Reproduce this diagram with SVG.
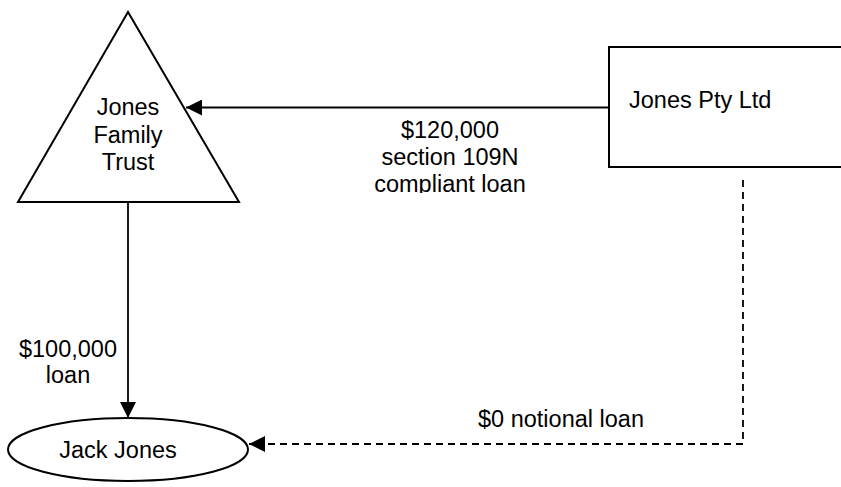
<svg xmlns="http://www.w3.org/2000/svg" width="841" height="487" viewBox="0 0 841 487">
<style>
.shape{fill:#fff;stroke:#000;stroke-width:2}
.conn{fill:none;stroke:#000;stroke-width:1.8}
.dash{stroke-dasharray:7 5}
text{font-family:"Liberation Sans",Arial,sans-serif;font-size:23.5px;fill:#000}
.c{text-anchor:middle}
</style>
<defs>
<marker id="ah" markerUnits="userSpaceOnUse" markerWidth="16" markerHeight="16" viewBox="0 0 16 16" refX="16" refY="8" orient="auto">
<path d="M0,0 L16,8 L0,16 Z" fill="#000"/>
</marker>
<clipPath id="clipLbl"><rect x="360" y="110" width="200" height="83"/></clipPath>
</defs>
<rect width="841" height="487" fill="#fff"/>
<g id="trust">
<polygon class="shape" points="128,12 18,202 239,202"/>
<text class="c" x="128" y="115">Jones</text>
<text class="c" x="128" y="143">Family</text>
<text class="c" x="128" y="170">Trust</text>
</g>
<g id="company">
<rect class="shape" x="609" y="47" width="260" height="120"/>
<text x="629" y="108">Jones Pty Ltd</text>
</g>
<g id="jack">
<ellipse class="shape" cx="128" cy="449.5" rx="120" ry="31.5"/>
<text class="c" x="118" y="458">Jack Jones</text>
</g>
<g id="connectors">
<line class="conn" x1="609" y1="107.5" x2="186" y2="107.5" marker-end="url(#ah)"/>
<line class="conn" x1="128" y1="202" x2="128" y2="418" marker-end="url(#ah)"/>
<polyline class="conn dash" points="743,180 743,444 249,444" marker-end="url(#ah)"/>
<g clip-path="url(#clipLbl)">
<text class="c" x="450" y="138">$120,000</text>
<text class="c" x="450" y="165">section 109N</text>
<text class="c" x="450" y="192">compliant loan</text>
</g>
<text class="c" x="68" y="357">$100,000</text>
<text class="c" x="68" y="383">loan</text>
<text x="478" y="427">$0 notional loan</text>
</g>
</svg>
